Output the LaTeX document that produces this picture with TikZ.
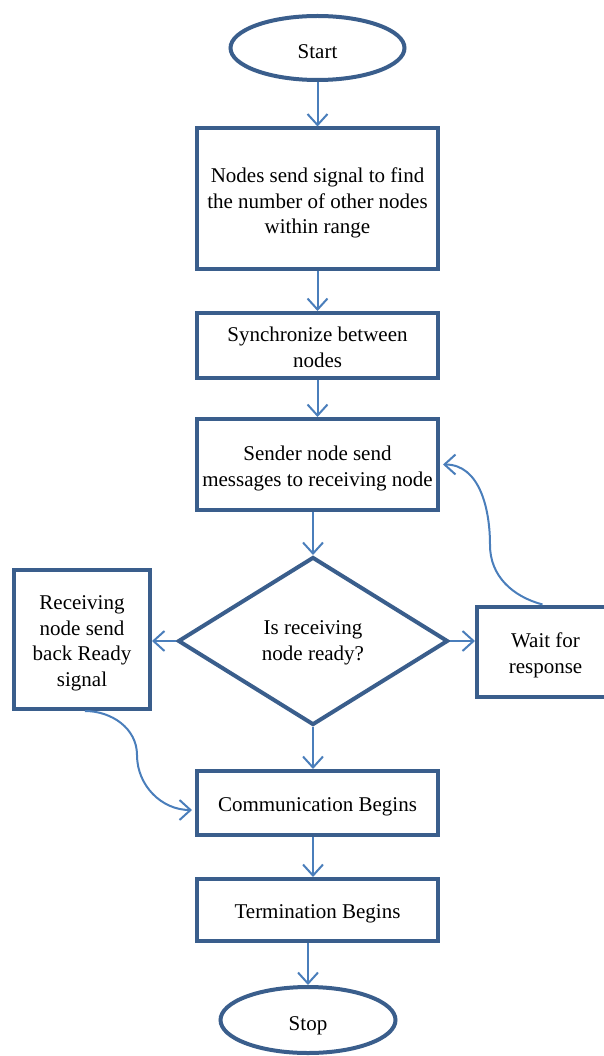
\documentclass[tikz,border=0pt]{standalone}
\usepackage{fontspec}
\setmainfont{Liberation Serif}
\usetikzlibrary{shapes.geometric,arrows.meta,calc}
\definecolor{bordc}{RGB}{58,94,140}
\definecolor{arrc}{RGB}{74,126,187}
\begin{document}
\begin{tikzpicture}[x=1pt,y=1pt,
  every node/.style={font=\fontsize{21}{25.5}\selectfont, align=center, inner sep=0pt},
  box/.style={draw=bordc, line width=4pt, fill=white, rectangle},
  term/.style={draw=bordc, line width=4pt, fill=white, ellipse},
  dec/.style={draw=bordc, line width=4pt, fill=white, diamond, aspect=1.6},
  txt/.style={yshift=-4pt},
  arr/.style={draw=arrc, line width=2pt, -{Straight Barb[length=11pt,width=20pt,line width=2pt]}}]
\useasboundingbox (0,0) rectangle (603,-1056);
\node[term, minimum width=174, minimum height=64] (start) at (317.5,-48) {};
\node[txt] (startt) at (start) {Start};
\node[box, minimum width=241, minimum height=141] (b1) at (317.5,-199) {};
\node[txt] (b1t) at (b1) {Nodes send signal to find\\the number of other nodes\\within range};
\node[box, minimum width=241, minimum height=65] (b2) at (317.5,-345.5) {};
\node[txt, yshift=2pt] (b2t) at (b2) {Synchronize between\\nodes};
\node[box, minimum width=241, minimum height=91] (b3) at (317.5,-464.5) {};
\node[txt] (b3t) at (b3) {Sender node send\\messages to receiving node};
\node[dec, minimum width=270, minimum height=168] (dia) at (313,-641) {};
\node (diat) at (313,-643) {Is receiving\\node ready?};
\node[box, minimum width=136, minimum height=139] (lb) at (82,-639.5) {};
\node[txt] (lbt) at (lb) {Receiving\\node send\\back Ready\\signal};
\node[box, minimum width=137, minimum height=90] (wait) at (545.5,-651.5) {};
\node[txt] (waitt) at (wait) {Wait for\\response};
\node[box, minimum width=241, minimum height=64] (comm) at (317.5,-803) {};
\node[txt] (commt) at (comm) {Communication Begins};
\node[box, minimum width=241, minimum height=62] (termb) at (317.5,-910) {};
\node[txt] (termt) at (termb) {Termination Begins};
\node[term, minimum width=175, minimum height=66] (stop) at (308,-1020) {};
\node[txt, yshift=-2pt] (stopt) at (stop) {Stop};

\draw[arr] (start.south) -- (b1.north);
\draw[arr] (b1.south) -- (b2.north);
\draw[arr] (b2.south) -- (b3.north);
\draw[arr] (b3.south -| dia.north) -- (dia.north);
\draw[arr] (dia.west) -- (dia.west -| lb.east);
\draw[arr] (dia.east) -- (dia.east -| wait.west);
\draw[arr] (dia.south) -- (dia.south |- comm.north);
\draw[arr] (dia.south |- comm.south) -- (dia.south |- termb.north);
\draw[arr] (stop.north |- termb.south) -- (stop.north);
\coordinate (wtop) at ($(wait.north)+(-3,0)$);
\coordinate (b3e) at ($(b3.east)+(3,0)$);
\draw[arr] (wtop) to[out=165,in=-90] (490,-545) to[out=90,in=0] (b3e);
\coordinate (lbot) at ($(lb.south)+(3,0)$);
\coordinate (cw) at ($(comm.west)+(-3,-7)$);
\draw[arr] (lbot) to[out=0,in=90] (137,-755) to[out=-90,in=180] (cw);
\end{tikzpicture}
\end{document}
